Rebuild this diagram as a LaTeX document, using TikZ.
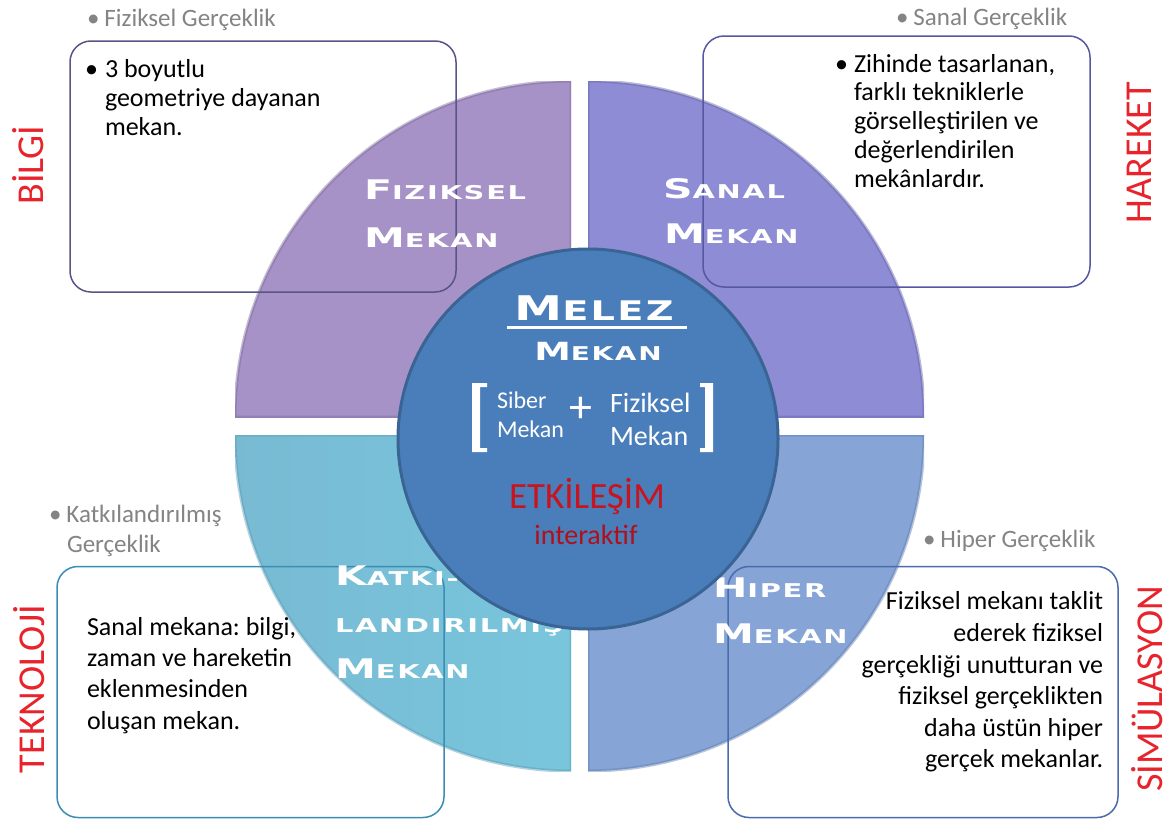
\documentclass[tikz,border=0pt]{standalone}
\usepackage{fontspec}
\setmainfont{Carlito}
\newfontfamily\cgfont[LetterSpace=6]{DejaVu Sans}

\definecolor{qTL}{HTML}{A692C6}
\definecolor{qTR}{HTML}{8E8CD4}
\definecolor{qBL}{HTML}{7EC4DE}
\definecolor{qBR}{HTML}{86A4D6}
\definecolor{qTLd}{HTML}{7C6A9C}
\definecolor{qTRd}{HTML}{6664A8}
\definecolor{qBLd}{HTML}{5A9CB8}
\definecolor{qBRd}{HTML}{627EB0}
\definecolor{hub}{HTML}{4A7EBB}
\definecolor{hubedge}{HTML}{3A6494}
\definecolor{sidered}{HTML}{E8232B}
\definecolor{etkred}{HTML}{C8141E}
\definecolor{intred}{HTML}{B01018}
\definecolor{hdrgray}{HTML}{848484}
\definecolor{edgeA}{HTML}{585686}
\definecolor{edgeB}{HTML}{5558A2}
\definecolor{edgeC}{HTML}{3A8DB5}
\definecolor{edgeD}{HTML}{4A6BAE}

% wide small-caps lettering: big initial + smaller capitals, stretched sideways
\newcommand\cgtext[5]{\scalebox{#1}[1]{\cgfont\bfseries\fontsize{#2}{#2}\selectfont #4\fontsize{#3}{#3}\selectfont #5}}
\newcommand\cgq[2]{\cgtext{1.52}{27}{19}{#1}{#2}}

\begin{document}
\frenchspacing
\begin{tikzpicture}[x=1pt,y=-1pt,
  every node/.style={inner sep=0pt,outer sep=0pt},
  qlabel/.style={anchor=base west,text=white},
  infobox/.style={draw,line width=1.5pt,rounded corners=21pt,fill=none},
  boxtext/.style={anchor=base west,font=\fontsize{26}{26}\selectfont},
  boxtextr/.style={anchor=base east,font=\fontsize{26}{26}\selectfont},
  header/.style={anchor=base west,text=hdrgray,font=\fontsize{25}{25}\selectfont},
  side/.style={rotate=90,text=sidered,font=\fontsize{38}{38}\selectfont},
  hubtext/.style={text=white}]

\useasboundingbox (0,0) rectangle (1172,819);
\fill[white] (0,0) rectangle (1172,819);

% four quarter discs
\begin{scope}
  \clip (235,81) rectangle (571,417);
  \fill[qTL] (571,417) circle[radius=336];
  \draw[qTLd,line width=3pt,opacity=.45] (571,417) circle[radius=336] (235,417) -- (571,417) -- (571,81);
\end{scope}
\begin{scope}
  \clip (588,81) rectangle (924,417);
  \fill[qTR] (588,417) circle[radius=336];
  \draw[qTRd,line width=3pt,opacity=.45] (588,417) circle[radius=336] (924,417) -- (588,417) -- (588,81);
\end{scope}
\begin{scope}
  \clip (235,435) rectangle (571,771);
  \shade[left color=qBL!95!black,right color=qBL!85!cyan!90!white] (571,435) circle[radius=336];
  \draw[qBLd,line width=3pt,opacity=.45] (571,435) circle[radius=336] (235,435) -- (571,435) -- (571,771);
\end{scope}
\begin{scope}
  \clip (588,435) rectangle (924,771);
  \fill[qBR] (588,435) circle[radius=336];
  \draw[qBRd,line width=3pt,opacity=.45] (588,435) circle[radius=336] (924,435) -- (588,435) -- (588,771);
\end{scope}

% description boxes
\node[infobox,draw=edgeA,minimum width=386pt,minimum height=251pt] (boxFiz) at (263,166.5) {};
\node[infobox,draw=edgeB,minimum width=387pt,minimum height=251pt] (boxSan) at (896.5,161.5) {};
\node[infobox,draw=edgeC,minimum width=387pt,minimum height=251pt] (boxKat) at (250.5,692) {};
\node[infobox,draw=edgeD,minimum width=390pt,minimum height=251pt] (boxHip) at (923,692) {};

% quadrant titles
\node[qlabel] (tFizA) at (364,199) {\cgq{F}{IZIKSEL}};
\node[qlabel] (tFizB) at (364,247) {\cgq{M}{EKAN}};
\node[qlabel] (tSanA) at (663,198) {\cgq{S}{ANAL}};
\node[qlabel] (tSanB) at (664,243) {\cgq{M}{EKAN}};
\node[qlabel] (tKatA) at (335,585) {\cgq{K}{ATKI-}};
\node[qlabel] (tKatB) at (335,632) {\cgq{}{LANDIRILMIŞ}};
\node[qlabel] (tKatC) at (335,678) {\cgq{M}{EKAN}};
\node[qlabel] (tHipA) at (713,597) {\cgq{H}{IPER}};
\node[qlabel] (tHipB) at (713,643) {\cgq{M}{EKAN}};

% central hub
\node[circle,fill=hub,draw=hubedge,line width=3pt,minimum size=380pt] (hub) at (588,439) {};
\node[hubtext,anchor=base] (melez) at (594,320) {\cgtext{1.42}{34}{27}{M}{ELEZ}};
\coordinate (ulA) at (507,327);
\coordinate (ulB) at (687,327);
\draw[white,line width=3pt] (ulA) -- (ulB);
\node[hubtext,anchor=base] (mekanC) at (598,360) {\cgtext{1.47}{25}{19}{M}{EKAN}};

% brackets around the sum
\fill[white] (472,383) rectangle (480,452) (472,383) rectangle (487,387) (472,448) rectangle (487,452);
\fill[white] (705,383) rectangle (713,452) (700,383) rectangle (713,387) (700,448) rectangle (713,452);
\node[hubtext,anchor=base west,font=\fontsize{24}{24}\selectfont] (siberA) at (497,408) {Siber};
\node[hubtext,anchor=base west,font=\fontsize{24}{24}\selectfont] (siberB) at (497,437) {Mekan};
\node[hubtext,font=\fontsize{46}{46}\selectfont] (plus) at (581,410) {+};
\node[hubtext,anchor=base west,font=\fontsize{28}{28}\selectfont] (fizA) at (610,412) {Fiziksel};
\node[hubtext,anchor=base west,font=\fontsize{28}{28}\selectfont] (fizB) at (610,445) {Mekan};
\node[anchor=base,text=etkred,font=\fontsize{37}{37}\selectfont] (etk) at (587,508) {ETKİLEŞİM};
\node[anchor=base,text=intred,font=\fontsize{28}{28}\selectfont] (inter) at (586,544) {interaktif};

% grey headings
\node[header] (hFiz) at (87,27) {\textbullet\hspace{5pt}Fiziksel Gerçeklik};
\node[header] (hSan) at (896,25) {\textbullet\hspace{5pt}Sanal Gerçeklik};
\node[header] (hKatA) at (49,522) {\textbullet\hspace{5pt}Katkılandırılmış};
\node[header] (hKatB) at (67,552) {Gerçeklik};
\node[header] (hHip) at (923,547) {\textbullet\hspace{5pt}Hiper Gerçeklik};

% box texts
\node[boxtext] (fizBul) at (85,77) {\textbullet};
\node[boxtext] (fiz1) at (105,77) {3 boyutlu};
\node[boxtext] (fiz2) at (105,106) {geometriye dayanan};
\node[boxtext] (fiz3) at (105,135) {mekan.};

\node[boxtext] (sanBul) at (835,72) {\textbullet};
\node[boxtext] (san1) at (854,72) {Zihinde tasarlanan,};
\node[boxtext] (san2) at (854,100) {farklı tekniklerle};
\node[boxtext] (san3) at (854,129) {görselleştirilen ve};
\node[boxtext] (san4) at (854,158) {değerlendirilen};
\node[boxtext] (san5) at (854,187) {mekânlardır.};

\node[boxtext] (kat1) at (87,635) {Sanal mekana: bilgi,};
\node[boxtext] (kat2) at (87,666) {zaman ve hareketin};
\node[boxtext] (kat3) at (87,697) {eklenmesinden};
\node[boxtext] (kat4) at (87,729) {oluşan mekan.};

\node[boxtextr] (hip1) at (1103,609) {Fiziksel mekanı taklit};
\node[boxtextr] (hip2) at (1103,641) {ederek fiziksel};
\node[boxtextr] (hip3) at (1103,673) {gerçekliği unutturan ve};
\node[boxtextr] (hip4) at (1103,704) {fiziksel gerçeklikten};
\node[boxtextr] (hip5) at (1103,736) {daha üstün hiper};
\node[boxtextr] (hip6) at (1103,767) {gerçek mekanlar.};

% side keywords
\node[side] (sBilgi) at (28,165) {BİLGİ};
\node[side] (sHareket) at (1139,153) {HAREKET};
\node[side] (sTekno) at (29,689) {TEKNOLOJİ};
\node[side] (sSimu) at (1147,689) {SİMÜLASYON};
\end{tikzpicture}
\end{document}
